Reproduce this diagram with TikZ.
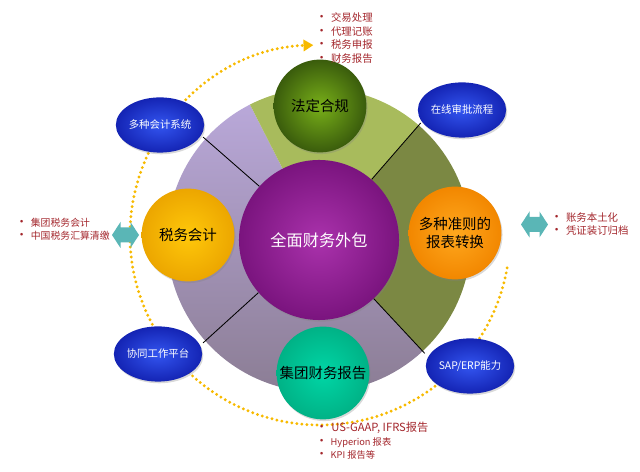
\documentclass[tikz,border=0pt]{standalone}
\usepackage{fontspec}
\setmainfont{Noto Sans CJK SC}
\usepackage{tikz}
\usetikzlibrary{shapes.geometric,arrows.meta,calc,shadows}
\usepackage{xcolor}

\definecolor{itemred}{HTML}{A3262C}
\definecolor{lilac}{HTML}{B9A8D9}
\definecolor{lilacgray}{HTML}{8B7D94}
\definecolor{oliveL}{HTML}{A8BB5C}
\definecolor{oliveD}{HTML}{7B8843}
\definecolor{dotyellow}{HTML}{F7BA00}
\definecolor{arrowteal}{HTML}{5AB6B6}
\definecolor{ovalIn}{HTML}{3355F0}
\definecolor{ovalOut}{HTML}{1424B4}
\newcommand{\bul}{{\fontsize{9}{9}\selectfont\textbullet}\hspace{0.3em}}

\begin{document}
\begin{tikzpicture}[x=0.025cm, y=0.025cm,
  ball/.style={circle, inner sep=0pt, minimum size=2.32cm,
    font=\fontsize{10.3}{12.8}\selectfont,
    drop shadow={opacity=0.3, shadow xshift=0.8pt, shadow yshift=-1.2pt}},
  oval/.style={ellipse, inner sep=0pt, minimum width=2.1cm, minimum height=1.38cm,
    inner color=ovalIn, outer color=ovalOut, text=white,
    font=\fontsize{7.4}{9}\selectfont,
    drop shadow={opacity=0.3, shadow xshift=0.8pt, shadow yshift=-1.2pt}},
  items/.style={anchor=north west, inner sep=0pt, align=left, text=itemred,
    font=\fontsize{7.4}{9.9}\selectfont},
  spoke/.style={black, line width=0.6pt},
  dotline/.style={dotyellow, line width=2.3pt, line cap=round,
    dash pattern=on 0pt off 3.6pt}]
  \useasboundingbox (0,0) rectangle (640,472);
  \coordinate (C) at (319,232);
  \coordinate (O) at (320,237);

  % dotted ring
  \draw[dotline, -{Triangle[length=7pt, width=8pt, fill=dotyellow]}]
    ($(O)+(-10:190)$) arc[start angle=-10, end angle=-268, radius=190];

  % big disc
  \shade[top color=lilac, bottom color=lilacgray]
    (C) -- ($(C)+(117:152)$) arc[start angle=117, end angle=313, radius=152] -- cycle;
  \fill[oliveL] (C) -- ($(C)+(49:152)$) arc[start angle=49, end angle=117, radius=152] -- cycle;
  \fill[oliveD] (C) -- ($(C)+(-47:152)$) arc[start angle=-47, end angle=49, radius=152] -- cycle;

  \node[circle, inner sep=0pt, minimum size=4.0cm, inner color={rgb,255:red,170;green,50;blue,172},
    outer color={rgb,255:red,122;green,20;blue,126}, text=white,
    font=\fontsize{11.5}{13}\selectfont,
    drop shadow={opacity=0.3, shadow xshift=0.8pt, shadow yshift=-1.2pt}] (core) at (C) {全面财务外包};

  \foreach \a/\n in {138.4/rimNW, 49/rimNE, 221.6/rimSW, -47/rimSE}
    \coordinate (\n) at ($(C)+(\a:155)$);
  \draw[spoke] (core.138.4) -- (rimNW);
  \draw[spoke] (core.49) -- (rimNE);
  \draw[spoke] (core.221.6) -- (rimSW);
  \draw[spoke] (core.-47) -- (rimSE);

  \node[ball, inner color={rgb,255:red,120;green,175;blue,25}, outer color={rgb,255:red,58;green,92;blue,12}] (law) at (320,366) {法定合规};
  \node[ball, inner color={rgb,255:red,255;green,200;blue,10}, outer color={rgb,255:red,236;green,166;blue,0}] (tax) at (188,237) {税务会计};
  \node[ball, align=center, inner color={rgb,255:red,255;green,168;blue,30}, outer color={rgb,255:red,242;green,135;blue,0}] (conv) at (455,239) {多种准则的\\报表转换};
  \node[ball, inner color={rgb,255:red,0;green,214;blue,166}, outer color={rgb,255:red,0;green,178;blue,134}] (report) at (323,99) {集团财务报告};

  \node[oval] (sys) at (160,347) {多种会计系统};
  \node[oval] (flow) at (462,362) {在线审批流程};
  \node[oval] (collab) at (158,118) {协同工作平台};
  \node[oval] (sap) at (470,106) {SAP/ERP能力};

  % double arrows
  \foreach \cx/\cy in {125.5/237, 534.5/247.5}
    \fill[arrowteal] (\cx,\cy) ++(-13.5,0) -- ++(8.5,13) -- ++(0,-5.5) -- ++(10,0) -- ++(0,5.5)
      -- ++(8.5,-13) -- ++(-8.5,-13) -- ++(0,5.5) -- ++(-10,0) -- ++(0,-5.5) -- cycle;

  % item lists
  \node[items] (topitems) at (315,460) {\bul 交易处理\\ \bul 代理记账\\ \bul 税务申报\\ \bul 财务报告};
  \node[items, font=\fontsize{7}{9.4}\selectfont] (leftitems) at (15,254) {\bul 集团税务会计\\ \bul 中国税务汇算清缴};
  \node[items] (rightitems) at (550,260) {\bul 账务本土化\\ \bul 凭证装订归档};
  \node[items, font=\fontsize{8}{9.5}\selectfont] (botitems) at (315,50)
    {\bul US-GAAP, IFRS报告\\ {\fontsize{6.6}{8}\selectfont\bul Hyperion 报表}\\ {\fontsize{6.6}{8}\selectfont\bul KPI 报告等}};
\end{tikzpicture}
\end{document}
